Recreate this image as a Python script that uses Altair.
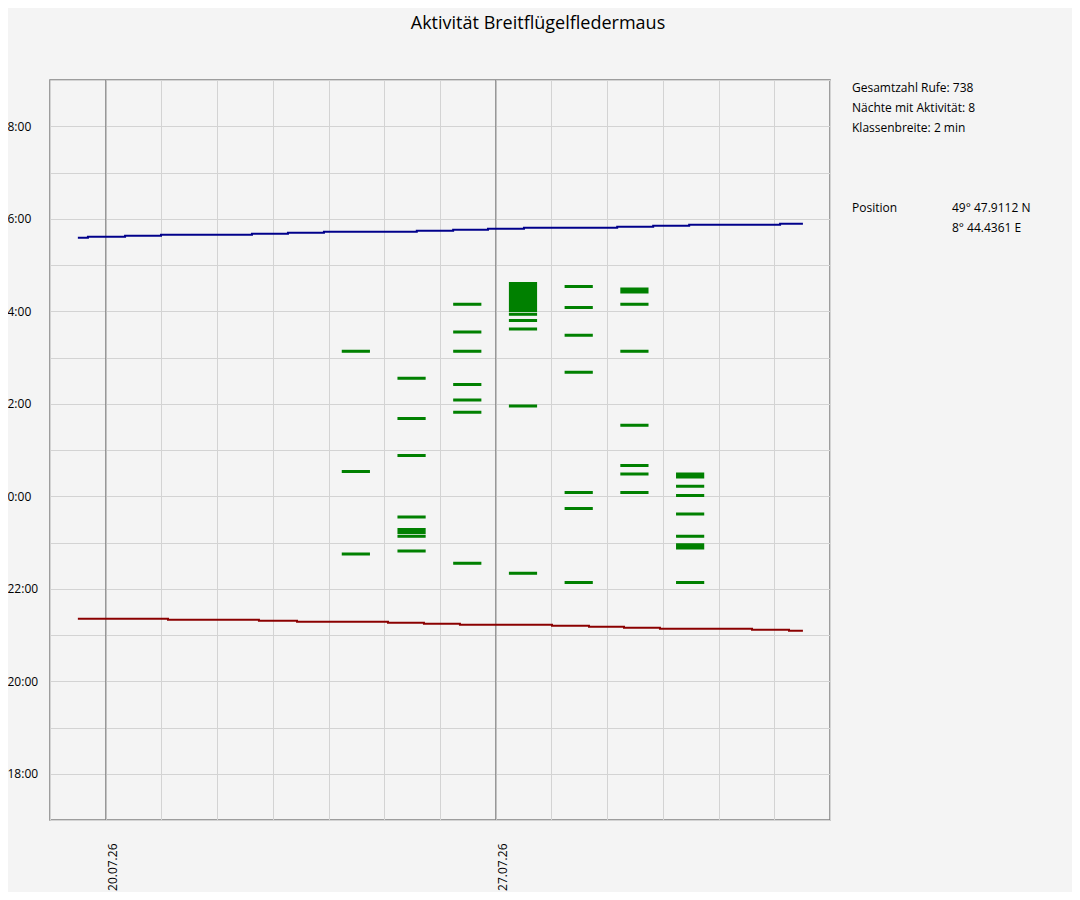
import json
import altair as alt
import pandas as pd

# ---------------- texts ----------------
TITLE = "Aktivität Breitflügelfledermaus"
INFO_LINES = ["Gesamtzahl Rufe: 738", "Nächte mit Aktivität: 8", "Klassenbreite: 2 min"]
POSITION_LABEL = "Position"
POSITION_VALUES = ["49° 47.9112 N", "8° 44.4361 E"]

# ---------------- x axis (days) ----------------
DAY_TICKS = ["2026-07-19", "2026-07-20", "2026-07-21", "2026-07-22", "2026-07-23",
             "2026-07-24", "2026-07-25", "2026-07-26", "2026-07-27", "2026-07-28",
             "2026-07-29", "2026-07-30", "2026-07-31", "2026-08-01", "2026-08-02"]
LABELED_DAYS = ["2026-07-20", "2026-07-27"]

# ---------------- activity bars (2-min classes) ----------------
BAR_NIGHT = (["2026-07-24"] * 3 + ["2026-07-25"] * 7 + ["2026-07-26"] * 7 +
             ["2026-07-27"] * 6 + ["2026-07-28"] * 7 + ["2026-07-29"] * 7 +
             ["2026-07-30"] * 7)
BAR_START = [
    "03:07", "00:31", "22:44",
    "02:32", "01:40", "00:52", "23:32", "23:12", "23:07", "22:48",
    "04:08", "03:32", "03:07", "02:24", "02:04", "01:48", "22:32",
    "04:00", "03:55", "03:47", "03:36", "01:56", "22:19",
    "04:31", "04:04", "03:28", "02:40", "00:04", "23:43", "22:07",
    "04:24", "04:08", "03:07", "01:31", "00:39", "00:28", "00:04",
    "00:24", "00:12", "00:00", "23:36", "23:07", "22:52", "22:07",
]
BAR_MINUTES = [
    2, 2, 2,
    2, 2, 2, 2, 6, 2, 2,
    2, 2, 2, 2, 2, 2, 2,
    37, 2, 2, 2, 2, 2,
    2, 2, 2, 2, 2, 2, 2,
    6, 2, 2, 2, 2, 2, 2,
    6, 2, 2, 2, 2, 6, 2,
]

# ---------------- sunrise / sunset ----------------
SUNRISE_AT = ["2026-07-19T12:00", "2026-07-19T16:20", "2026-07-20T08:20", "2026-07-20T23:50",
              "2026-07-22T15:00", "2026-07-23T06:30", "2026-07-23T22:00", "2026-07-25T14:00",
              "2026-07-26T05:40", "2026-07-26T20:40", "2026-07-27T12:10", "2026-07-29T04:20",
              "2026-07-29T19:50", "2026-07-30T11:20", "2026-08-01T02:30", "2026-08-01T12:20"]
SUNRISE_TIME = ["05:35:21", "05:36:39", "05:37:57", "05:39:15", "05:40:33", "05:41:50",
                "05:43:08", "05:44:26", "05:45:44", "05:47:02", "05:48:20", "05:49:38",
                "05:50:55", "05:52:13", "05:53:31", "05:53:31"]
SUNSET_AT = ["2026-07-19T12:00", "2026-07-21T02:50", "2026-07-22T18:00", "2026-07-23T10:25",
             "2026-07-25T01:35", "2026-07-25T17:05", "2026-07-26T08:35", "2026-07-28T00:15",
             "2026-07-28T16:10", "2026-07-29T07:15", "2026-07-29T22:45", "2026-07-31T14:25",
             "2026-08-01T06:20", "2026-08-01T12:20"]
SUNSET_TIME = ["21:21:05", "21:19:47", "21:18:29", "21:17:11", "21:15:54", "21:14:36",
               "21:13:18", "21:12:00", "21:10:42", "21:09:24", "21:08:06", "21:06:49",
               "21:05:31", "21:05:31"]

FONT = "Open Sans"
GREEN = "#008000"
NAVY = "#00008b"
DARKRED = "#8b0000"
GRID = "#d3d3d3"
BG = "#f4f4f4"


def night_hours(t):
    """clock time -> hours after noon (17:00 -> 5, 0:00 -> 12, 9:00 -> 21)"""
    parts = [int(p) for p in t.split(":")]
    h = parts[0] + parts[1] / 60 + (parts[2] / 3600 if len(parts) > 2 else 0)
    return h - 12 if h >= 12 else h + 12


def iso(ts):
    return pd.Timestamp(ts).strftime("%Y-%m-%dT%H:%M:%S") + "Z"


def ms(day):
    return int(pd.Timestamp(day, tz="UTC").value // 10**6)


bars = pd.DataFrame({"night": BAR_NIGHT, "start": BAR_START, "minutes": BAR_MINUTES})
bars["x0"] = [iso(pd.Timestamp(n) + pd.Timedelta(hours=6)) for n in bars["night"]]
bars["x1"] = [iso(pd.Timestamp(n) + pd.Timedelta(hours=17, minutes=30)) for n in bars["night"]]
bars["y0"] = [night_hours(s) for s in bars["start"]]
bars["y1"] = bars["y0"] + bars["minutes"] / 60

sunrise = pd.DataFrame({"at": [iso(a) for a in SUNRISE_AT],
                        "v": [night_hours(t) for t in SUNRISE_TIME]})
sunset = pd.DataFrame({"at": [iso(a) for a in SUNSET_AT],
                       "v": [night_hours(t) for t in SUNSET_TIME]})
weeks = pd.DataFrame({"d": [iso(d) for d in LABELED_DAYS]})

x_label_expr = ("indexof(" + json.dumps(LABELED_DAYS) +
                ", utcFormat(datum.value, '%Y-%m-%d')) >= 0 ? utcFormat(datum.value, '%d.%m.%y') : ''")
y_label_expr = ("datum.value % 2 == 0 && datum.value > 5 && datum.value < 21 ? "
                "((datum.value + 12) % 24) + ':00' : ''")

x_scale = alt.Scale(type="utc", domain=[ms(DAY_TICKS[0]), ms(DAY_TICKS[-1])], nice=False)
y_scale = alt.Scale(domain=[5, 21], nice=False, zero=False)
x_axis = alt.Axis(values=[ms(d) for d in DAY_TICKS], labelExpr=x_label_expr, grid=True,
                  gridColor=GRID, gridWidth=1, ticks=False, tickSize=0, domain=False,
                  labelAngle=270, labelAlign="right", labelBaseline="top", labelPadding=23,
                  labelOffset=2, labelFontSize=12, labelColor="#000000", labelFont=FONT,
                  labelOverlap=False, labelFlush=False, labelBound=False, title=None)
y_axis = alt.Axis(values=list(range(5, 22)), labelExpr=y_label_expr, grid=True,
                  gridColor=GRID, gridWidth=1, ticks=False, tickSize=0, domain=False,
                  labelAlign="left", labelBaseline="middle", labelPadding=43,
                  labelFontSize=12, labelColor="#000000", labelFont=FONT, labelOverlap=False,
                  labelFlush=False, labelBound=False, title=None)

week_rules = alt.Chart(weeks).mark_rule(color="#808080", strokeWidth=1).encode(
    x=alt.X("d:T", scale=x_scale, axis=x_axis)
)

sunrise_line = alt.Chart(sunrise).mark_line(
    color=NAVY, strokeWidth=2, interpolate="step-after", strokeCap="butt"
).encode(
    x=alt.X("at:T", scale=x_scale, axis=x_axis),
    y=alt.Y("v:Q", scale=y_scale, axis=y_axis),
)
sunset_line = alt.Chart(sunset).mark_line(
    color=DARKRED, strokeWidth=2, interpolate="step-after", strokeCap="butt"
).encode(
    x=alt.X("at:T", scale=x_scale, axis=x_axis),
    y=alt.Y("v:Q", scale=y_scale, axis=y_axis),
)

bar_layer = alt.Chart(bars).mark_rect(color=GREEN, stroke=GREEN, strokeWidth=1.5).encode(
    x=alt.X("x0:T", scale=x_scale, axis=x_axis),
    x2="x1:T",
    y=alt.Y("y0:Q", scale=y_scale, axis=y_axis),
    y2="y1:Q",
)

title_text = alt.Chart(pd.DataFrame({"t": [TITLE]})).mark_text(
    align="center", baseline="alphabetic", fontSize=18, font=FONT, color="#000000"
).encode(text="t:N", x=alt.value(488), y=alt.value(-51))

info_text = alt.Chart(pd.DataFrame({"t": ["\n".join(INFO_LINES)]})).mark_text(
    align="left", baseline="alphabetic", lineBreak="\n", lineHeight=20,
    fontSize=12, font=FONT, color="#000000"
).encode(text="t:N", x=alt.value(802), y=alt.value(12))

pos_label = alt.Chart(pd.DataFrame({"t": [POSITION_LABEL]})).mark_text(
    align="left", baseline="alphabetic", fontSize=12, font=FONT, color="#000000"
).encode(text="t:N", x=alt.value(802), y=alt.value(132))

pos_values = alt.Chart(pd.DataFrame({"t": ["\n".join(POSITION_VALUES)]})).mark_text(
    align="left", baseline="alphabetic", lineBreak="\n", lineHeight=20,
    fontSize=12, font=FONT, color="#000000"
).encode(text="t:N", x=alt.value(902), y=alt.value(132))

chart = alt.layer(
    week_rules, sunrise_line, sunset_line, bar_layer,
    title_text, info_text, pos_label, pos_values
).properties(
    width=780,
    height=740,
    autosize=alt.AutoSizeParams(type="none"),
    padding={"left": 42, "top": 72, "right": 242, "bottom": 72},
    background=BG,
).configure_view(
    fill=BG, stroke="#808080", strokeWidth=1.5
)

chart.save("out.html", embed_options={"renderer": "svg", "actions": False})
